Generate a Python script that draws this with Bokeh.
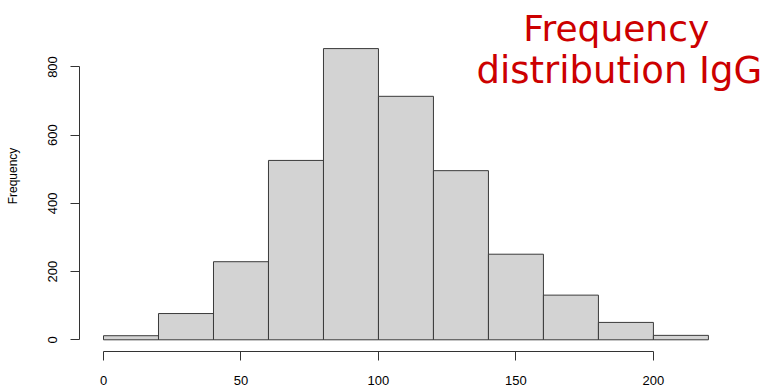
from bokeh.plotting import figure
from bokeh.models import FixedTicker, Range1d, Label
from bokeh.embed import file_html
from bokeh.resources import INLINE

bin_edges = [0, 20, 40, 60, 80, 100, 120, 140, 160, 180, 200, 220]
counts = [12, 77, 229, 526, 854, 714, 496, 251, 131, 51, 13]
x_ticks = [0, 50, 100, 150, 200]
y_ticks = [0, 200, 400, 600, 800]
title_lines = ["Frequency", "distribution IgG"]

W, H = 775, 388
p = figure(width=W, height=H, output_backend="svg", toolbar_location=None,
           x_range=Range1d(-8.73, 244.4), y_range=Range1d(-34.3, 995.0),
           min_border=0, min_border_left=79, min_border_right=0,
           min_border_top=0, min_border_bottom=37)
p.xgrid.visible = False
p.ygrid.visible = False
p.outline_line_color = None
p.background_fill_color = "white"
p.border_fill_color = "white"

p.quad(left=bin_edges[:-1], right=bin_edges[1:], bottom=0, top=counts,
       fill_color="#D3D3D3", line_color="#3a3a3a", line_width=1)

font = "Liberation Sans"
xa = p.xaxis[0]
xa.ticker = FixedTicker(ticks=x_ticks)
xa.bounds = (0, 200)
xa.major_tick_in = 0
xa.major_tick_out = 9
xa.minor_tick_out = 0
xa.minor_tick_in = 0
xa.major_label_standoff = 15
xa.major_label_text_font = font
xa.major_label_text_font_size = "13px"
xa.major_label_text_color = "black"
xa.axis_line_color = "#333333"
xa.major_tick_line_color = "#333333"

ya = p.yaxis[0]
ya.ticker = FixedTicker(ticks=y_ticks)
ya.bounds = (0, 800)
ya.major_tick_in = 0
ya.major_tick_out = 9
ya.minor_tick_out = 0
ya.minor_tick_in = 0
ya.major_label_standoff = 13
ya.major_label_orientation = "vertical"
ya.major_label_text_font = font
ya.major_label_text_font_size = "13px"
ya.major_label_text_color = "black"
ya.axis_line_color = "#333333"
ya.major_tick_line_color = "#333333"
ya.axis_label = "Frequency"
ya.axis_label_text_font = font
ya.axis_label_text_font_size = "12px"
ya.axis_label_text_font_style = "normal"
ya.axis_label_text_color = "black"
ya.axis_label_standoff = 26

p.add_layout(Label(x=186.5, y=913, text=title_lines[0], text_align="center",
                   text_baseline="alphabetic", text_color="#CC0000",
                   text_font="DejaVu Sans", text_font_size="36px"))
p.add_layout(Label(x=187.6, y=790, text=title_lines[1], text_align="center",
                   text_baseline="alphabetic", text_color="#CC0000",
                   text_font="DejaVu Sans", text_font_size="37px"))

open("out.html", "w").write(file_html(p, INLINE))
